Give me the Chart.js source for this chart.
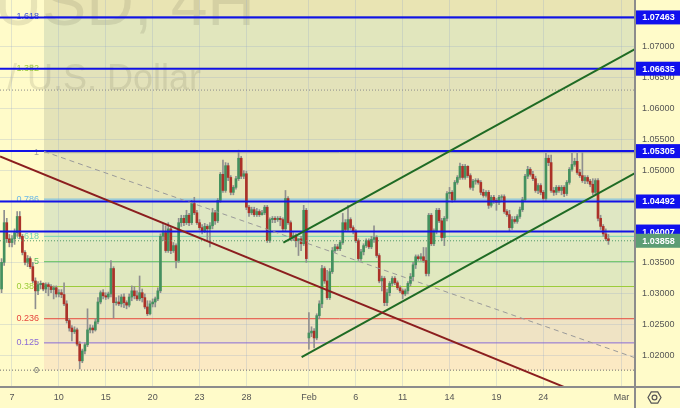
<!DOCTYPE html>
<html><head><meta charset="utf-8">
<script src="https://cdn.jsdelivr.net/npm/chart.js@4.4.1/dist/chart.umd.min.js"></script>
<style>html,body{margin:0;padding:0;background:#fffbc9;} canvas{display:block;}</style>
</head><body>
<canvas id="c" width="680" height="408"></canvas>
<script>
// ---- data (EURUSD 4H, bar index 0 = 7 Jan 00:00) ----
const firstBar = -4;
const opens = [
1.0308,1.0351,1.0415,1.0389,1.0383,1.0389,1.0399,1.0425,1.0393,1.0367,
1.0351,1.0357,1.0344,1.0321,1.0305,1.0315,1.0317,1.0308,1.0315,1.0312,
1.0307,1.0310,1.0300,1.0302,1.0299,1.0284,1.0257,1.0245,1.0239,1.0242,
1.0219,1.0192,1.0208,1.0218,1.0242,1.0245,1.0242,1.0255,1.0287,1.0302,
1.0297,1.0295,1.0300,1.0341,1.0286,1.0287,1.0284,1.0295,1.0286,1.0282,
1.0295,1.0305,1.0297,1.0292,1.0302,1.0294,1.0279,1.0268,1.0284,1.0287,
1.0292,1.0305,1.0393,1.0399,1.0370,1.0405,1.0370,1.0378,1.0354,1.0415,
1.0422,1.0415,1.0427,1.0415,1.0446,1.0431,1.0415,1.0407,1.0402,1.0409,
1.0405,1.0410,1.0431,1.0418,1.0451,1.0493,1.0467,1.0507,1.0488,1.0464,
1.0472,1.0486,1.0519,1.0490,1.0494,1.0440,1.0431,1.0436,1.0428,1.0433,
1.0428,1.0431,1.0440,1.0386,1.0420,1.0422,1.0420,1.0422,1.0420,1.0405,
1.0454,1.0415,1.0389,1.0394,1.0386,1.0389,1.0381,1.0435,1.0229,1.0237,
1.0240,1.0229,1.0265,1.0284,1.0341,1.0321,1.0294,1.0336,1.0370,1.0376,
1.0373,1.0383,1.0415,1.0404,1.0420,1.0407,1.0401,1.0386,1.0357,1.0368,
1.0378,1.0386,1.0376,1.0388,1.0391,1.0362,1.0321,1.0325,1.0286,1.0302,
1.0317,1.0325,1.0318,1.0310,1.0305,1.0300,1.0305,1.0317,1.0328,1.0347,
1.0360,1.0357,1.0360,1.0354,1.0333,1.0427,1.0381,1.0402,1.0435,1.0418,
1.0391,1.0422,1.0462,1.0464,1.0452,1.0480,1.0488,1.0506,1.0488,1.0506,
1.0491,1.0472,1.0482,1.0483,1.0480,1.0464,1.0459,1.0464,1.0443,1.0456,
1.0451,1.0448,1.0456,1.0457,1.0433,1.0428,1.0407,1.0420,1.0417,1.0425,
1.0436,1.0452,1.0490,1.0501,1.0493,1.0486,1.0467,1.0475,1.0464,1.0454,
1.0519,1.0512,1.0467,1.0464,1.0472,1.0467,1.0472,1.0462,1.0480,1.0501,
1.0509,1.0514,1.0496,1.0491,1.0483,1.0488,1.0482,1.0477,1.0464,1.0483,
1.0422,1.0409,1.0397,1.0389];
const highs = [
1.0357,1.0435,1.0422,1.0396,1.0394,1.0405,1.0433,1.0433,1.0396,1.0370,
1.0362,1.0360,1.0351,1.0326,1.0320,1.0321,1.0318,1.0318,1.0318,1.0315,
1.0313,1.0313,1.0307,1.0307,1.0318,1.0289,1.0260,1.0249,1.0247,1.0245,
1.0223,1.0211,1.0221,1.0276,1.0250,1.0249,1.0260,1.0294,1.0305,1.0307,
1.0302,1.0303,1.0354,1.0344,1.0294,1.0297,1.0299,1.0300,1.0289,1.0300,
1.0313,1.0312,1.0305,1.0329,1.0308,1.0300,1.0289,1.0289,1.0292,1.0295,
1.0310,1.0397,1.0414,1.0410,1.0415,1.0409,1.0383,1.0381,1.0422,1.0427,
1.0427,1.0435,1.0430,1.0451,1.0456,1.0435,1.0420,1.0412,1.0414,1.0412,
1.0415,1.0438,1.0435,1.0454,1.0496,1.0516,1.0512,1.0511,1.0491,1.0475,
1.0490,1.0532,1.0522,1.0499,1.0498,1.0443,1.0440,1.0440,1.0438,1.0436,
1.0435,1.0443,1.0443,1.0423,1.0425,1.0425,1.0425,1.0425,1.0423,1.0467,
1.0457,1.0418,1.0399,1.0397,1.0389,1.0393,1.0443,1.0438,1.0270,1.0247,
1.0244,1.0268,1.0289,1.0346,1.0344,1.0338,1.0341,1.0375,1.0380,1.0380,
1.0386,1.0430,1.0420,1.0443,1.0423,1.0410,1.0404,1.0389,1.0372,1.0381,
1.0389,1.0389,1.0393,1.0410,1.0394,1.0365,1.0329,1.0328,1.0308,1.0320,
1.0328,1.0328,1.0321,1.0313,1.0308,1.0308,1.0320,1.0333,1.0351,1.0363,
1.0363,1.0365,1.0375,1.0375,1.0430,1.0430,1.0405,1.0438,1.0438,1.0422,
1.0425,1.0465,1.0472,1.0467,1.0483,1.0491,1.0511,1.0509,1.0509,1.0507,
1.0494,1.0485,1.0486,1.0486,1.0483,1.0469,1.0467,1.0467,1.0459,1.0459,
1.0454,1.0459,1.0460,1.0460,1.0436,1.0435,1.0425,1.0425,1.0428,1.0440,
1.0456,1.0493,1.0506,1.0504,1.0498,1.0490,1.0478,1.0478,1.0467,1.0527,
1.0524,1.0524,1.0472,1.0475,1.0475,1.0475,1.0475,1.0483,1.0504,1.0527,
1.0519,1.0527,1.0501,1.0528,1.0491,1.0491,1.0485,1.0486,1.0486,1.0486,
1.0427,1.0412,1.0405,1.0396];
const lows = [
1.0302,1.0346,1.0383,1.0376,1.0376,1.0380,1.0393,1.0389,1.0363,1.0347,
1.0344,1.0341,1.0318,1.0276,1.0299,1.0308,1.0305,1.0302,1.0297,1.0302,
1.0292,1.0295,1.0295,1.0294,1.0281,1.0253,1.0240,1.0224,1.0236,1.0216,
1.0179,1.0189,1.0203,1.0215,1.0237,1.0237,1.0240,1.0252,1.0284,1.0292,
1.0291,1.0292,1.0295,1.0261,1.0282,1.0281,1.0279,1.0278,1.0276,1.0279,
1.0289,1.0292,1.0289,1.0289,1.0287,1.0276,1.0265,1.0266,1.0279,1.0279,
1.0289,1.0302,1.0386,1.0367,1.0367,1.0365,1.0367,1.0342,1.0351,1.0409,
1.0410,1.0412,1.0410,1.0412,1.0428,1.0412,1.0404,1.0397,1.0399,1.0386,
1.0376,1.0405,1.0412,1.0415,1.0448,1.0464,1.0464,1.0483,1.0460,1.0460,
1.0469,1.0483,1.0486,1.0486,1.0436,1.0425,1.0428,1.0425,1.0425,1.0425,
1.0427,1.0428,1.0383,1.0383,1.0415,1.0415,1.0417,1.0410,1.0402,1.0402,
1.0412,1.0386,1.0386,1.0376,1.0362,1.0370,1.0378,1.0351,1.0211,1.0231,
1.0213,1.0226,1.0260,1.0278,1.0317,1.0291,1.0291,1.0333,1.0367,1.0370,
1.0370,1.0380,1.0401,1.0401,1.0404,1.0397,1.0383,1.0354,1.0354,1.0363,
1.0375,1.0373,1.0373,1.0383,1.0359,1.0318,1.0305,1.0281,1.0281,1.0297,
1.0313,1.0315,1.0307,1.0302,1.0292,1.0297,1.0300,1.0313,1.0321,1.0341,
1.0354,1.0354,1.0351,1.0329,1.0329,1.0378,1.0378,1.0397,1.0415,1.0386,
1.0378,1.0418,1.0454,1.0448,1.0449,1.0477,1.0485,1.0485,1.0485,1.0488,
1.0469,1.0467,1.0477,1.0477,1.0460,1.0456,1.0456,1.0438,1.0440,1.0446,
1.0435,1.0444,1.0451,1.0430,1.0425,1.0402,1.0404,1.0414,1.0414,1.0422,
1.0433,1.0449,1.0486,1.0490,1.0483,1.0464,1.0462,1.0460,1.0451,1.0451,
1.0507,1.0464,1.0459,1.0460,1.0464,1.0460,1.0457,1.0459,1.0477,1.0498,
1.0506,1.0493,1.0488,1.0480,1.0478,1.0478,1.0473,1.0460,1.0460,1.0418,
1.0404,1.0393,1.0386,1.0380];
const closes = [
1.0351,1.0415,1.0389,1.0383,1.0389,1.0399,1.0425,1.0393,1.0367,1.0351,
1.0357,1.0344,1.0321,1.0305,1.0315,1.0317,1.0308,1.0315,1.0312,1.0307,
1.0310,1.0300,1.0302,1.0299,1.0284,1.0257,1.0245,1.0239,1.0242,1.0219,
1.0192,1.0208,1.0218,1.0242,1.0245,1.0242,1.0255,1.0287,1.0302,1.0297,
1.0295,1.0300,1.0341,1.0286,1.0287,1.0284,1.0295,1.0286,1.0282,1.0295,
1.0305,1.0297,1.0292,1.0302,1.0294,1.0279,1.0268,1.0284,1.0287,1.0292,
1.0305,1.0393,1.0399,1.0370,1.0405,1.0370,1.0378,1.0354,1.0415,1.0422,
1.0415,1.0427,1.0415,1.0446,1.0431,1.0415,1.0407,1.0402,1.0409,1.0405,
1.0410,1.0431,1.0418,1.0451,1.0493,1.0467,1.0507,1.0488,1.0464,1.0472,
1.0486,1.0519,1.0490,1.0494,1.0440,1.0431,1.0436,1.0428,1.0433,1.0428,
1.0431,1.0440,1.0386,1.0420,1.0422,1.0420,1.0422,1.0420,1.0405,1.0454,
1.0415,1.0389,1.0394,1.0386,1.0389,1.0381,1.0435,1.0357,1.0237,1.0240,
1.0229,1.0265,1.0284,1.0341,1.0321,1.0294,1.0336,1.0370,1.0376,1.0373,
1.0383,1.0415,1.0404,1.0420,1.0407,1.0401,1.0386,1.0357,1.0368,1.0378,
1.0386,1.0376,1.0388,1.0391,1.0362,1.0321,1.0325,1.0286,1.0302,1.0317,
1.0325,1.0318,1.0310,1.0305,1.0300,1.0305,1.0317,1.0328,1.0347,1.0360,
1.0357,1.0360,1.0354,1.0333,1.0427,1.0381,1.0402,1.0435,1.0418,1.0391,
1.0422,1.0462,1.0464,1.0452,1.0480,1.0488,1.0506,1.0488,1.0506,1.0491,
1.0472,1.0482,1.0483,1.0480,1.0464,1.0459,1.0464,1.0443,1.0456,1.0451,
1.0448,1.0456,1.0457,1.0433,1.0428,1.0407,1.0420,1.0417,1.0425,1.0436,
1.0452,1.0490,1.0501,1.0493,1.0486,1.0467,1.0475,1.0464,1.0454,1.0519,
1.0512,1.0467,1.0464,1.0472,1.0467,1.0472,1.0462,1.0480,1.0501,1.0509,
1.0514,1.0496,1.0491,1.0483,1.0488,1.0482,1.0477,1.0464,1.0483,1.0422,
1.0409,1.0397,1.0389,1.0386];

const dayTicks = [0,18,36,54,72,90,114,132,150,168,186,204,234];
const dayLabels = ['7','10','15','20','23','28','Feb','6','11','14','19','24','Mar'];
const priceTicks = [1.020,1.025,1.030,1.035,1.040,1.045,1.050,1.055,1.060,1.065,1.070];
const hLevels = [1.07463,1.06635,1.05305,1.04492,1.04007];
const lastPrice = 1.03858;
const fibRatios = ['0','0.125','0.236','0.382','0.5','0.618','0.786','1','1.272','1.382','1.618'];
const fibPrices = [1.0177,1.0221,1.0260,1.0312,1.0352,1.0393,1.0453,1.0528,1.0629,1.0664,1.0747];
const fibStart = 12.3;
const maroonLine = [[-4.6,1.0522],[211.9,1.0150]];
const dashedLine = [[12.3,1.0530],[239.2,1.0197]];
const upperChannel = [[104.2,1.0383],[239.2,1.0695]];
const lowerChannel = [[111.2,1.0198],[239.2,1.0495]];
const xMin = -4.6, xMax = 239.2, yMin = 1.01498, yMax = 1.07744;

// ---- styles ----
const BG = '#fffbc9';
const fibColors = ['#6e6e6e','#8a6bd6','#e5473d','#9ccc3a','#5dbf5d','#6ed3b2','#6db8e6','#a0a0a0','#8a8a8a','#9ccc3a','#4055d0'];
const fibFull = [true,false,false,false,false,false,false,false,true,false,false];
const fibShowLabel = [true,true,true,true,true,true,true,true,false,true,true];
const bandColors = ['#fbe9c3','#efe3c4','#e6e6bf','#e0e8bf','#dfe9c1','#dfe7c3','#e7e5b9','#e4e3b8','#e3e2ba','#e1e6bd'];
const topBand = '#e9e4b3';
const FONT = 'Liberation Sans';

const xs = opens.map((_, k) => firstBar + k);
const bodyColors = opens.map((o, k) => closes[k] >= o ? '#44915f' : '#ab3128');

function seg(pts, color, width, dash, order) {
  return { type: 'line', data: pts.map(p => ({ x: p[0], y: p[1] })), borderColor: color,
    borderWidth: width, borderDash: dash || [], pointRadius: 0, fill: false, tension: 0, order: order };
}

const datasets = [];
datasets.push(seg(maroonLine, '#8b1e1e', 2, null, 0));
datasets.push(seg(upperChannel, '#1f6b24', 2, null, 0));
datasets.push(seg(lowerChannel, '#1f6b24', 2, null, 0));
datasets.push(seg(dashedLine, '#9a9a9a', 1, [5, 4], 0));
hLevels.forEach(v => datasets.push(seg([[xMin, v], [xMax, v]], '#1212e6', 2, null, 1)));
datasets.push(seg([[xMin, lastPrice], [xMax, lastPrice]], '#4f9a6a', 1, [1, 2], 2));
fibPrices.forEach((v, k) => datasets.push(seg([[fibFull[k] ? xMin : fibStart, v], [xMax, v]],
  fibColors[k], 1, fibFull[k] ? [1, 2] : null, 6)));
datasets.push({ type: 'bar', data: xs.map((x, k) => ({ x, y: [opens[k], closes[k]] })),
  backgroundColor: bodyColors, barThickness: 2, grouped: false, order: 4 });
datasets.push({ type: 'bar', data: xs.map((x, k) => ({ x, y: [lows[k], highs[k]] })),
  backgroundColor: '#8f8f8f', barThickness: 1, grouped: false, order: 5 });

const decor = {
  id: 'decor',
  beforeDraw(chart) {
    const { ctx, chartArea: a, scales: { x, y } } = chart;
    ctx.save();
    ctx.fillStyle = BG; ctx.fillRect(0, 0, chart.width, chart.height);
    const x0 = x.getPixelForValue(fibStart);
    for (let k = 0; k < fibPrices.length - 1; k++) {
      const yt = y.getPixelForValue(fibPrices[k + 1]), yb = y.getPixelForValue(fibPrices[k]);
      ctx.fillStyle = bandColors[k]; ctx.fillRect(x0, yt, a.right - x0, yb - yt);
    }
    const ytop = y.getPixelForValue(fibPrices[fibPrices.length - 1]);
    ctx.fillStyle = topBand; ctx.fillRect(x0, a.top, a.right - x0, ytop - a.top);
    // watermark
    ctx.fillStyle = 'rgba(90,90,70,0.14)';
    ctx.textAlign = 'right'; ctx.textBaseline = 'alphabetic';
    ctx.font = '66px ' + FONT; ctx.fillText('EURUSD, 4H', 255, 25);
    ctx.font = '36px ' + FONT; ctx.fillText('Euro / U.S. Dollar', 201, 90);
    ctx.restore();
  },
  beforeDatasetsDraw(chart) {
    const { ctx, scales: { x, y } } = chart;
    ctx.save();
    ctx.font = '9px ' + FONT; ctx.textAlign = 'right'; ctx.textBaseline = 'middle';
    const xl = x.getPixelForValue(fibStart) - 5;
    fibPrices.forEach((v, k) => {
      if (!fibShowLabel[k]) return;
      ctx.fillStyle = fibColors[k]; ctx.fillText(fibRatios[k], xl, y.getPixelForValue(v));
    });
    ctx.restore();
  },
  afterDraw(chart) {
    const { ctx, chartArea: a, scales: { y } } = chart;
    ctx.save();
    ctx.strokeStyle = '#8c8c8c'; ctx.lineWidth = 2;
    ctx.beginPath(); ctx.moveTo(a.right, 0); ctx.lineTo(a.right, chart.height); ctx.stroke();
    ctx.beginPath(); ctx.moveTo(0, a.bottom); ctx.lineTo(chart.width, a.bottom); ctx.stroke();
    ctx.font = 'bold 9px ' + FONT; ctx.textAlign = 'center'; ctx.textBaseline = 'middle';
    const box = (v, col) => {
      const py = y.getPixelForValue(v);
      ctx.fillStyle = col; ctx.fillRect(a.right + 1, py - 7, chart.width - a.right - 1, 14);
      ctx.fillStyle = '#ffffff'; ctx.fillText(v.toFixed(5), (a.right + chart.width) / 2 + 1, py + 0.5);
    };
    hLevels.forEach(v => box(v, '#1010ee'));
    box(lastPrice, '#5c9d74');
    // settings icon
    const cx = (a.right + chart.width) / 2 - 3, cy = (a.bottom + chart.height) / 2;
    ctx.strokeStyle = '#555'; ctx.lineWidth = 1.2;
    ctx.beginPath();
    for (let k = 0; k < 6; k++) {
      const ang = Math.PI / 3 * k;
      const px = cx + 6.5 * Math.cos(ang), py = cy + 6.5 * Math.sin(ang);
      k ? ctx.lineTo(px, py) : ctx.moveTo(px, py);
    }
    ctx.closePath(); ctx.stroke();
    ctx.beginPath(); ctx.arc(cx, cy, 2.4, 0, Math.PI * 2); ctx.stroke();
    ctx.restore();
  }
};

Chart.defaults.font.family = FONT;
new Chart(document.getElementById('c'), {
  type: 'bar',
  data: { datasets },
  plugins: [decor],
  options: {
    responsive: false, animation: false, devicePixelRatio: 1,
    layout: { padding: 0 },
    plugins: { legend: { display: false }, tooltip: { enabled: false } },
    scales: {
      x: {
        type: 'linear', min: xMin, max: xMax, offset: false,
        grid: { color: 'rgba(150,170,200,0.28)', drawTicks: false, offset: false },
        border: { display: false },
        afterBuildTicks: s => { s.ticks = dayTicks.map(v => ({ value: v })); },
        afterFit: s => { s.height = 21; s.paddingLeft = 0; s.paddingRight = 0; s.paddingTop = 0; s.paddingBottom = 0; },
        ticks: { autoSkip: false, maxRotation: 0, padding: 5, color: '#555',
          font: { size: 9 }, callback: (v, i) => dayLabels[i] }
      },
      y: {
        type: 'linear', position: 'right', min: yMin, max: yMax,
        grid: { color: 'rgba(150,170,200,0.28)', drawTicks: false },
        border: { display: false },
        afterBuildTicks: s => { s.ticks = priceTicks.map(v => ({ value: v })); },
        afterFit: s => { s.width = 45; s.paddingTop = 0; s.paddingBottom = 0; s.paddingLeft = 0; s.paddingRight = 0; },
        ticks: { padding: 7, color: '#555', font: { size: 9 }, callback: v => v.toFixed(5) }
      }
    }
  }
});
</script>
</body></html>
